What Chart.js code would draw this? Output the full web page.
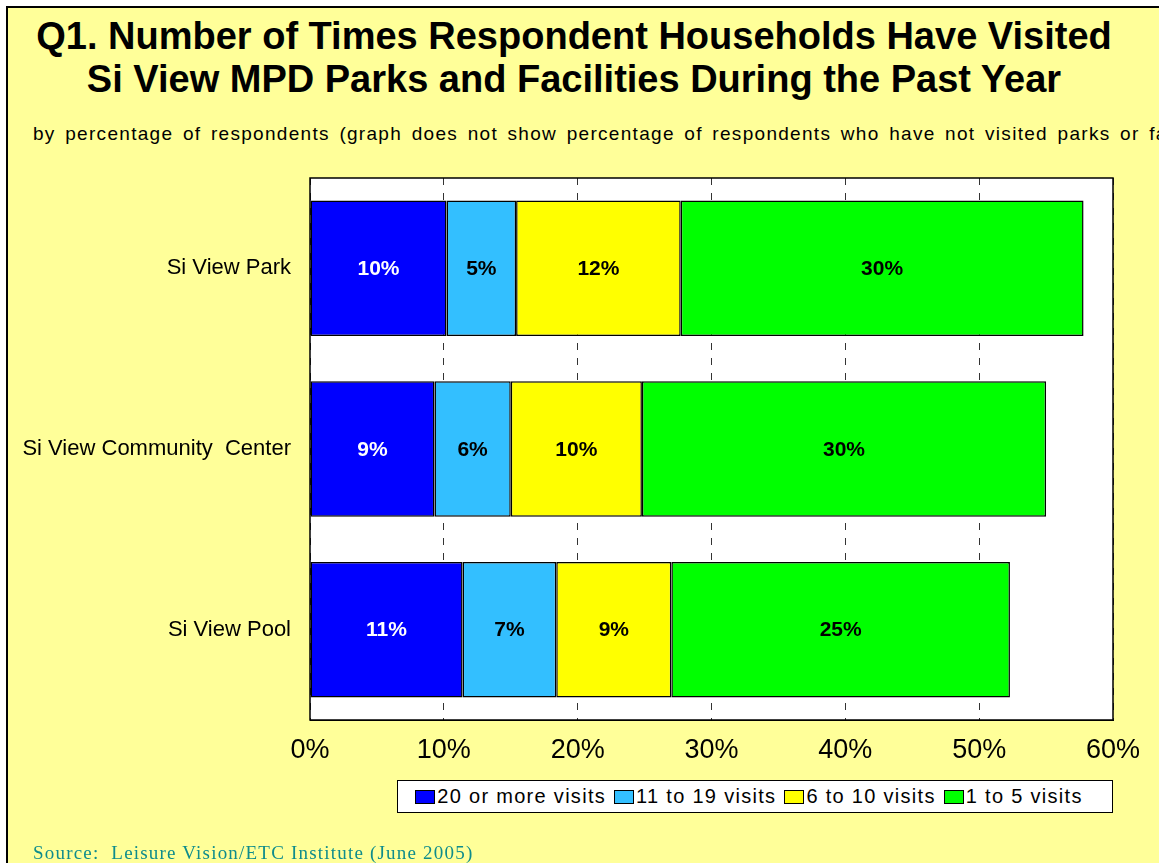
<!DOCTYPE html>
<html>
<head>
<meta charset="utf-8">
<script src="https://cdn.jsdelivr.net/npm/chart.js@4"></script>
<style>
  html, body { margin: 0; padding: 0; background: #fff; overflow: hidden; }
  body { width: 1159px; height: 863px; position: relative; font-family: "Liberation Sans", Arial, sans-serif; }
  #frame { position: absolute; left: 6px; top: 6px; width: 1200px; height: 900px; border: 2px solid #000; background: #FFFF99; }
  #title { position: absolute; left: 0; width: 1148px; top: 15px; text-align: center; font-weight: bold; font-size: 38px; line-height: 43px; color: #000; }
  #subtitle { position: absolute; left: 33px; top: 123px; font-size: 19px; letter-spacing: 1.3px; word-spacing: 3px; white-space: nowrap; color: #000; }
  #chart { position: absolute; left: 0; top: 0; }
  #legend { position: absolute; left: 397px; top: 780px; width: 694px; height: 31px; padding-right: 20px; border: 1.5px solid #000; background: #fff;
            display: flex; align-items: center; justify-content: center; font-size: 20px; letter-spacing: 1.3px; white-space: nowrap; }
  #legend span.sw { display: inline-block; width: 18px; height: 12px; border: 1.5px solid #000; margin: 0 2px 0 8px; }
  #source { position: absolute; left: 33px; top: 842px; font-family: "Liberation Serif", serif; font-size: 19px; letter-spacing: 1.2px; color: #0E8C8C; white-space: nowrap; }
</style>
</head>
<body>
<div id="frame"></div>
<div id="title">Q1. Number of Times Respondent Households Have Visited<br>Si View MPD Parks and Facilities During the Past Year</div>
<div id="subtitle">by percentage of respondents (graph does not show percentage of respondents who have not visited parks or facilities)</div>
<canvas id="chart" width="1159" height="863"></canvas>
<div id="legend"></div>
<div id="source">Source:&nbsp; Leisure Vision/ETC Institute (June 2005)</div>
<script>
const facilities = ['Si View Park', 'Si View Community  Center', 'Si View Pool'];
const seriesNames = ['20 or more visits', '11 to 19 visits', '6 to 10 visits', '1 to 5 visits'];
const twentyPlus = [10.2, 9.3, 11.4];
const elevenTo19 = [5.2, 5.7, 7.0];
const sixTo10 = [12.3, 9.8, 8.6];
const oneTo5 = [30.1, 30.2, 25.3];
const xTicks = [0, 10, 20, 30, 40, 50, 60];

const colors = ['#0000FF', '#33BFFF', '#FFFF00', '#00FF00'];
const labelColors = ['#FFFFFF', '#000000', '#000000', '#000000'];
const seriesData = [twentyPlus, elevenTo19, sixTo10, oneTo5];

document.addEventListener('DOMContentLoaded', function () {
    const ctx = document.getElementById('chart').getContext('2d');

    // white plot area with black frame
    const plotArea = {
        id: 'plotArea',
        beforeDraw(chart) {
            const a = chart.chartArea;
            chart.ctx.save();
            chart.ctx.fillStyle = '#FFFFFF';
            chart.ctx.fillRect(a.left, a.top, a.right - a.left, a.bottom - a.top);
            chart.ctx.restore();
        },
        afterDraw(chart) {
            const a = chart.chartArea;
            chart.ctx.save();
            chart.ctx.strokeStyle = '#000';
            chart.ctx.lineWidth = 1.5;
            chart.ctx.strokeRect(a.left, a.top, a.right - a.left, a.bottom - a.top);
            chart.ctx.restore();
        }
    };

    // percentage labels inside bars
    const barLabels = {
        id: 'barLabels',
        afterDatasetsDraw(chart) {
            const c = chart.ctx;
            c.save();
            c.font = 'bold 21px "Liberation Sans", Arial, sans-serif';
            c.textAlign = 'center';
            c.textBaseline = 'middle';
            chart.data.datasets.forEach((ds, i) => {
                const meta = chart.getDatasetMeta(i);
                meta.data.forEach((bar, j) => {
                    c.fillStyle = labelColors[i];
                    c.fillText(Math.round(ds.data[j]) + '%', (bar.x + bar.base) / 2, bar.y + 1);
                });
            });
            c.restore();
        }
    };

    new Chart(ctx, {
        type: 'bar',
        data: {
            labels: facilities,
            datasets: seriesNames.map((name, i) => ({
                label: name,
                data: seriesData[i],
                backgroundColor: colors[i],
                borderColor: '#000000',
                borderWidth: 1.5,
                borderSkipped: false,
                categoryPercentage: 1,
                barPercentage: 0.75
            }))
        },
        options: {
            indexAxis: 'y',
            responsive: false,
            animation: false,
            layout: { padding: { top: 178, right: 46, left: 0, bottom: 0 } },
            plugins: {
                legend: { display: false },
                tooltip: { enabled: false }
            },
            scales: {
                x: {
                    stacked: true,
                    min: 0,
                    max: 60,
                    afterBuildTicks(scale) { scale.ticks = xTicks.map(v => ({ value: v })); },
                    afterFit(scale) { scale.height = 143; },
                    ticks: {
                        callback: v => v + '%',
                        color: '#000',
                        padding: 14,
                        maxRotation: 0,
                        font: { size: 27, family: '"Liberation Sans", Arial, sans-serif' }
                    },
                    grid: {
                        color: '#333',
                        lineWidth: 1,
                        drawTicks: false
                    },
                    border: { display: true, color: '#000', dash: [7, 8] }
                },
                y: {
                    stacked: true,
                    afterFit(scale) { scale.width = 310; },
                    ticks: {
                        color: '#000',
                        padding: 19,
                        font: { size: 22, family: '"Liberation Sans", Arial, sans-serif' }
                    },
                    grid: { display: false, drawTicks: false },
                    border: { display: false }
                }
            }
        },
        plugins: [plotArea, barLabels]
    });

    // legend box built from the series
    const legend = document.getElementById('legend');
    seriesNames.forEach((name, i) => {
        const sw = document.createElement('span');
        sw.className = 'sw';
        sw.style.background = colors[i];
        legend.appendChild(sw);
        legend.appendChild(document.createTextNode(name));
    });
});
</script>
</body>
</html>
